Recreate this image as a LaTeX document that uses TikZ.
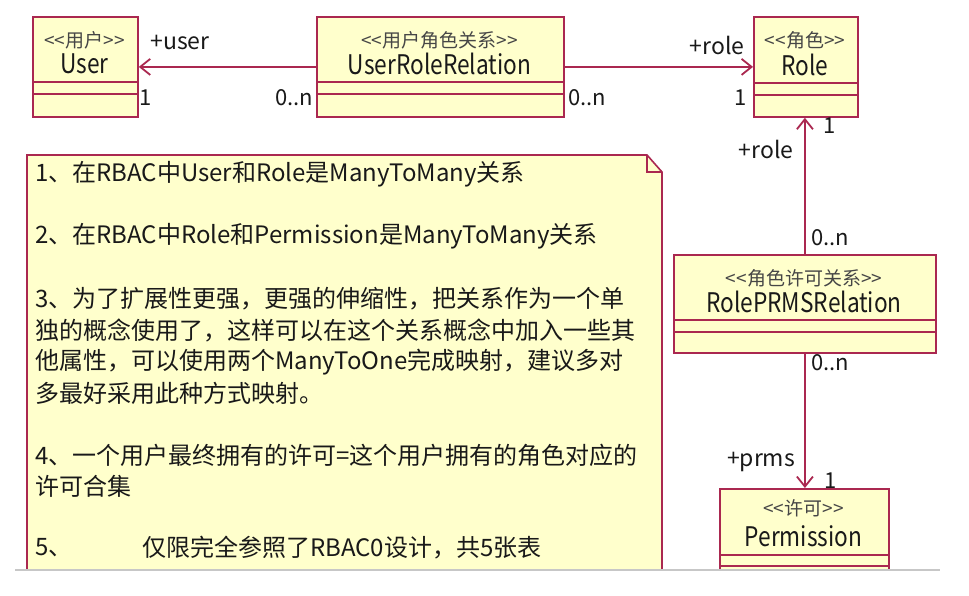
\documentclass[tikz,border=0pt]{standalone}
\usepackage{fontspec}
\setmainfont{Noto Sans CJK SC}
\usetikzlibrary{arrows.meta}
\definecolor{bord}{RGB}{170,40,80}
\definecolor{ylw}{RGB}{255,255,204}
\definecolor{txt}{RGB}{25,25,25}
\definecolor{sttxt}{RGB}{70,70,70}
\newcommand\stq[1]{<\kern0pt<#1>\kern0pt>}
\newcommand\cn[1]{\scalebox{0.84}[1]{#1}}
\begin{document}
\begin{tikzpicture}[x=1pt,y=-1pt,
 cls/.style={draw=bord,fill=ylw,line width=1.8pt,rectangle,inner sep=0pt,anchor=north west},
 sepline/.style={draw=bord,line width=1.8pt},
 stereo/.style={text=sttxt,font=\fontsize{19}{22}\selectfont,inner sep=0pt},
 cname/.style={text=txt,font=\fontsize{27}{30}\selectfont,inner sep=0pt},
 lbl/.style={text=txt,font=\fontsize{23}{26}\selectfont,inner sep=0pt},
 mult/.style={text=txt,font=\fontsize{22}{26}\selectfont,inner sep=0pt},
 notetxt/.style={text=txt,font=\fontsize{24}{28}\selectfont,inner sep=0pt,anchor=west},
 assoc/.style={draw=bord,line width=1.8pt,-{Straight Barb[length=10pt,width=16pt,line width=1.8pt]}},
]
\useasboundingbox (0,0) rectangle (969,596);
\fill[white] (0,0) rectangle (969,596);
\begin{scope}
\clip (0,0) rectangle (969,569);
% classes
\node[cls,minimum width=105pt,minimum height=100pt] (user) at (32,16) {};
\node[cls,minimum width=247pt,minimum height=100pt] (urr) at (316,16) {};
\node[cls,minimum width=104pt,minimum height=100pt] (role) at (753,16) {};
\node[cls,minimum width=262pt,minimum height=98pt] (rpr) at (673,254) {};
\node[cls,minimum width=169pt,minimum height=120pt] (perm) at (719,488) {};
% separators
\foreach \b/\a/\c in {user/66/78, urr/66/78, role/67/79, rpr/66/78, perm/67/78}{
  \draw[sepline] ([yshift=-\a pt]\b.north west) -- ([yshift=-\a pt]\b.north east);
  \draw[sepline] ([yshift=-\c pt]\b.north west) -- ([yshift=-\c pt]\b.north east);
}
% class texts
\node[stereo] (userst) at (84.5,40) {\stq{用户}};
\node[cname] (usern) at (84.5,64) {\cn{User}};
\node[stereo] (urrst) at (439.5,40) {\stq{用户角色关系}};
\node[cname] (urrn) at (439.5,64) {\cn{UserRoleRelation}};
\node[stereo] (rolest) at (805,40) {\stq{角色}};
\node[cname] (rolen) at (805,65) {\cn{Role}};
\node[stereo] (rprst) at (804,278) {\stq{角色许可关系}};
\node[cname] (rprn) at (804,302) {\cn{RolePRMSRelation}};
\node[stereo] (permst) at (803.5,508) {\stq{许可}};
\node[cname] (permn) at (803.5,536) {\cn{Permission}};
% note
\draw[draw=bord,fill=ylw,line width=1.6pt] (27,155) -- (647,155) -- (662,172) -- (662,600) -- (27,600) -- cycle;
\draw[draw=bord,line width=1.6pt] (647,155) -- (647,172) -- (662,172);
\node[notetxt] (l1) at (35,174) {1、在RBAC中User和Role是ManyToMany关系};
\node[notetxt] (l2) at (35,236) {2、在RBAC中Role和Permission是ManyToMany关系};
\node[notetxt] (l3) at (35,299) {3、为了扩展性更强，更强的伸缩性，把关系作为一个单};
\node[notetxt] (l4) at (35,330) {独的概念使用了，这样可以在这个关系概念中加入一些其};
\node[notetxt] (l5) at (35,362) {他属性，可以使用两个ManyToOne完成映射，建议多对};
\node[notetxt] (l6) at (35,393) {多最好采用此种方式映射。};
\node[notetxt] (l7) at (35,455) {4、一个用户最终拥有的许可=这个用户拥有的角色对应的};
\node[notetxt] (l8) at (35,486) {许可合集};
\node[notetxt] (l9) at (35,548) {5、};
\node[notetxt] (l10) at (142,548) {仅限完全参照了RBAC0设计，共5张表};
\end{scope}
% connectors
\draw[assoc] (urr.west) -- (user.east);
\draw[assoc] (urr.east) -- (role.west);
\draw[assoc] (rpr.north) -- (rpr.north |- role.south);
\draw[assoc] (rpr.south) -- (rpr.south |- perm.north);
% labels
\node[lbl] (luser) at (180,42) {+user};
\node[mult] (m1) at (146,98) {1};
\node[mult] (m2) at (294,98) {0..n};
\node[mult] (m3) at (587,98) {0..n};
\node[lbl] (lrole1) at (717,45) {+role};
\node[mult] (m4) at (741,98) {1};
\node[mult] (m5) at (830,126) {1};
\node[lbl] (lrole2) at (766,149) {+role};
\node[mult] (m6) at (830,238) {0..n};
\node[mult] (m7) at (830,363) {0..n};
\node[lbl] (lprms) at (761,462) {+prms};
\node[mult] (m8) at (831,481) {1};
% bottom rule
\draw[black!22,line width=1.2pt] (15,570) -- (940,570);
\end{tikzpicture}
\end{document}
